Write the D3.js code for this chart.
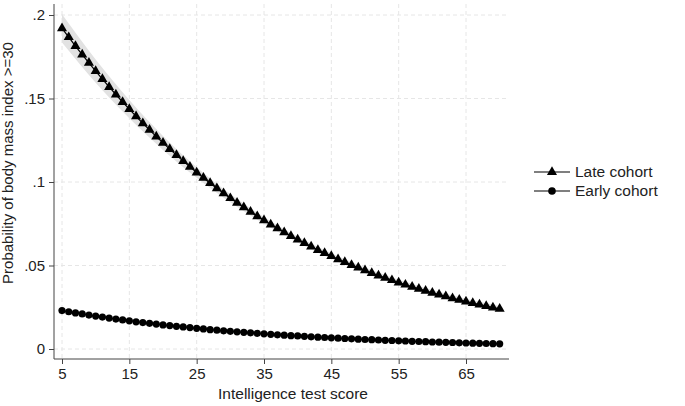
<!DOCTYPE html>
<html><head><meta charset="utf-8">
<script src="https://cdn.jsdelivr.net/npm/d3@7"></script>
<style>body{margin:0;background:#fff;font-family:Arial,"Liberation Sans",sans-serif}</style>
</head><body><svg id="c" width="685" height="406"></svg>
<script>
var scores = d3.range(5, 71);
var late = [.1920,.1867,.1814,.1763,.1713,.1664,.1616,.1569,.1524,.1479,.1436,.1393,.1352,.1312,.1272,.1234,.1197,.1161,.1125,.1091,
 .1057,.1025,.0993,.0962,.0932,.0903,.0875,.0848,.0821,.0795,.0770,.0745,.0722,.0699,.0676,.0655,.0634,.0613,.0593,.0574,
 .0556,.0537,.0520,.0503,.0487,.0471,.0455,.0440,.0426,.0412,.0398,.0385,.0372,.0360,.0348,.0337,.0326,.0315,.0304,.0294,
 .0284,.0275,.0266,.0257,.0248,.0240];
var early = [.0230,.0223,.0216,.0210,.0203,.0197,.0191,.0185,.0179,.0174,.0169,.0163,.0158,.0154,.0149,.0144,.0140,.0136,.0132,.0128,
 .0124,.0120,.0116,.0113,.0109,.0106,.0103,.0100,.0097,.0094,.0091,.0088,.0085,.0083,.0080,.0078,.0076,.0073,.0071,.0069,
 .0067,.0065,.0063,.0061,.0059,.0057,.0056,.0054,.0052,.0051,.0049,.0048,.0046,.0045,.0044,.0042,.0041,.0040,.0039,.0037,
 .0036,.0035,.0034,.0033,.0032,.0031];
// confidence half-widths for the late cohort, every 5 points
var ciScores = [5,10,15,20,25,30,35,40,45,50,55,60,65,70];
var ciLate = [.0085,.0070,.0055,.0042,.0032,.0025,.0020,.0018,.0017,.0017,.0017,.0017,.0017,.0017];
var lateAt = function(s){ return late[scores.indexOf(s)]; };
var xTicks = [5,15,25,35,45,55,65];
var yTicks = [0,.05,.1,.15,.2];
var yLabels = ["0",".05",".1",".15",".2"];

var svg = d3.select('#c');
var x = d3.scaleLinear().domain([5,65]).range([62,466]);
var y = d3.scaleLinear().domain([0,.2]).range([349,15]);

svg.selectAll('.gx').data(xTicks).enter().append('line')
	.attr('x1', d => x(d)).attr('x2', d => x(d)).attr('y1', 4).attr('y2', 359)
	.attr('stroke', '#e6e6e6').attr('stroke-dasharray', '4,3');
svg.selectAll('.gy').data(yTicks).enter().append('line')
	.attr('x1', 54).attr('x2', 509).attr('y1', d => y(d)).attr('y2', d => y(d))
	.attr('stroke', '#e6e6e6').attr('stroke-dasharray', '4,3');

var band = d3.area().curve(d3.curveMonotoneX)
	.x((d,i) => x(d)).y0((d,i) => y(lateAt(d) - ciLate[i])).y1((d,i) => y(lateAt(d) + ciLate[i]));
svg.append('path').datum(ciScores).attr('d', band).attr('fill', '#e2e2e2');
svg.append('path').datum(scores).attr('fill', '#dbe6ef')
	.attr('d', d3.area().x(d => x(d)).y0((d,i) => y(early[i]) + 1.5).y1((d,i) => y(early[i]) - 1.5));

var line = function(vals){ return d3.line().x(d => x(d)).y((d,i) => y(vals[i])); };
svg.append('path').datum(scores).attr('d', line(late)).attr('fill','none').attr('stroke','#000').attr('stroke-width',1.2);
svg.append('path').datum(scores).attr('d', line(early)).attr('fill','none').attr('stroke','#000').attr('stroke-width',1.2);

var tri = d3.symbol().type(d3.symbolTriangle).size(44);
svg.selectAll('.tri').data(scores).enter().append('path').attr('d', tri)
	.attr('transform', (d,i) => 'translate(' + x(d) + ',' + y(late[i]) + ')').attr('fill', '#000');
svg.selectAll('.dot').data(scores).enter().append('circle')
	.attr('cx', d => x(d)).attr('cy', (d,i) => y(early[i])).attr('r', 3.6).attr('fill', '#000');

var xa = svg.append('g').attr('transform', 'translate(0,359)')
	.call(d3.axisBottom(x).tickValues(xTicks).tickSize(5).tickPadding(4));
xa.select('.domain').attr('d', 'M54,0H509').attr('stroke', '#444');
var ya = svg.append('g').attr('transform', 'translate(54,0)')
	.call(d3.axisLeft(y).tickValues(yTicks).tickFormat((d,i) => yLabels[i]).tickSize(5).tickPadding(4));
ya.select('.domain').attr('d', 'M0,4V359').attr('stroke', '#444');
svg.selectAll('.tick text').attr('font-size', 15).attr('fill', '#222').attr('font-family', 'Arial, Liberation Sans');
svg.selectAll('.tick line').attr('stroke', '#444');

svg.append('text').attr('x', 293).attr('y', 399).attr('text-anchor', 'middle').attr('font-size', 15.5).attr('fill', '#222')
	.text('Intelligence test score');
svg.append('text').attr('transform', 'translate(13,163) rotate(-90)').attr('text-anchor', 'middle')
	.attr('font-size', 15).attr('fill', '#222').text('Probability of body mass index >=30');

var legend = [{label:'Late cohort', y:172, t:true}, {label:'Early cohort', y:191, t:false}];
legend.forEach(function(l){
	var g = svg.append('g');
	g.append('line').attr('x1', 534).attr('x2', 570).attr('y1', l.y).attr('y2', l.y).attr('stroke', '#000').attr('stroke-width', 1.2);
	if (l.t) g.append('path').attr('d', tri).attr('transform', 'translate(552,' + l.y + ')');
	else g.append('circle').attr('cx', 552).attr('cy', l.y).attr('r', 3.8);
	g.append('text').attr('x', 575).attr('y', l.y + 5).attr('font-size', 15.5).attr('fill', '#222').text(l.label);
});
</script></body></html>
